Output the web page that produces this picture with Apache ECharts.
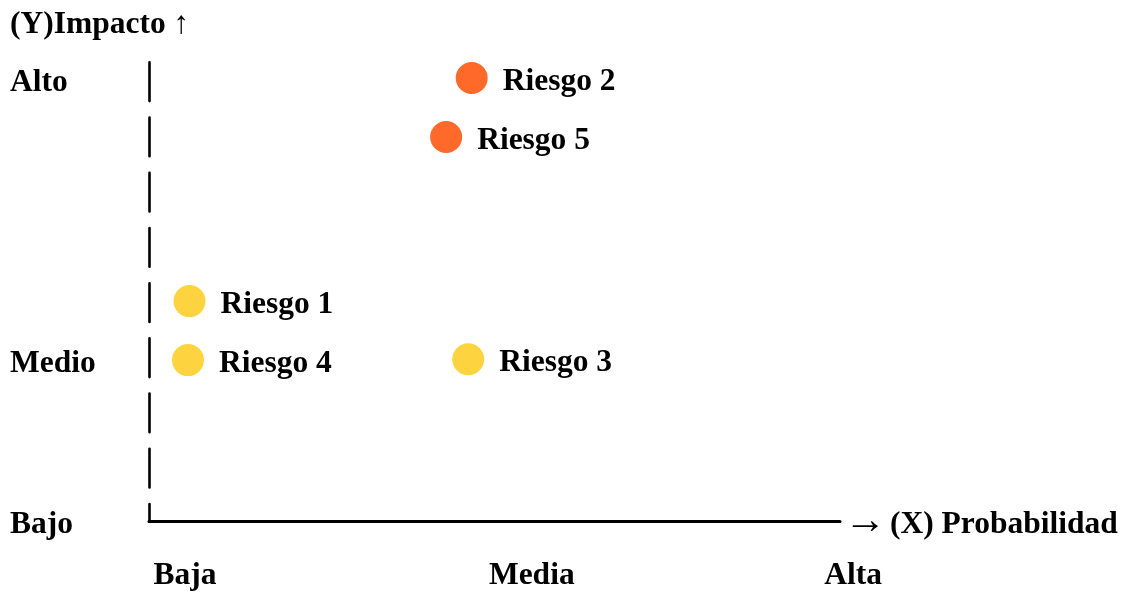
<!DOCTYPE html>
<html>
<head>
<meta charset="utf-8">
<script src="https://cdn.jsdelivr.net/npm/echarts@6/dist/echarts.min.js"></script>
<style>
html,body{margin:0;padding:0;background:#fff;}
#chart{width:1124px;height:592px;}
</style>
</head>
<body>
<div id="chart"></div>
<script>
// ---- data ----
const riskNames   = ['Riesgo 1', 'Riesgo 2', 'Riesgo 3', 'Riesgo 4', 'Riesgo 5'];
const riskProb    = [5.86, 46.7, 46.2, 5.64, 43.0];   // probability (x)
const riskImpact  = [4.77, 9.61, 3.51, 3.49, 8.33];   // impact (y)
const riskLevel   = ['medio', 'alto', 'medio', 'medio', 'alto'];
const levelColors = { alto: '#FF6A2A', medio: '#FDD43F' };

const yTickValues = [0, 3.49, 9.59];
const yTickLabels = ['Bajo', 'Medio', 'Alto'];
const xTickValues = [5.2, 55.4, 101.9];
const xTickLabels = ['Baja', 'Media', 'Alta'];

const yTitle = '(Y)Impacto \u2191';
const xArrow = '\u2192';
const xTitle = '(X) Probabilidad';

// ---- chart ----
const FONT = '"Liberation Serif", "Times New Roman", serif';
const FS = 31.5;
const chart = echarts.init(document.getElementById('chart'), null, { renderer: 'canvas' });

const points = riskNames.map((n, i) => ({
  name: n,
  value: [riskProb[i], riskImpact[i]],
  itemStyle: { color: levelColors[riskLevel[i]], opacity: 1 }
}));

const txt = { fontFamily: FONT, fontWeight: 'bold', fontSize: FS, color: '#000' };

chart.setOption({
  animation: false,
  backgroundColor: '#ffffff',
  title: {
    text: yTitle, left: 10, top: 9, padding: 0,
    textStyle: txt
  },
  grid: [
    { left: 149, top: 60, width: 691, height: 461 },
    { left: 149, top: 60, width: 760, height: 461 }
  ],
  xAxis: [
    {
      gridIndex: 0, type: 'value', min: 0, max: 100,
      splitLine: { show: false },
      axisLine: { show: true, onZero: false, lineStyle: { color: '#000', width: 3 } },
      axisTick: { show: false },
      axisLabel: { show: false },
      name: '{a|' + xArrow + '}{b|' + xTitle + '}', nameLocation: 'end', nameGap: 4,
      nameTextStyle: {
        verticalAlign: 'middle',
        rich: {
          a: { fontFamily: FONT, fontWeight: 'normal', fontSize: 42, color: '#000', padding: [2, 0, 0, 0] },
          b: Object.assign({}, txt, { padding: [7, 0, 0, 4] })
        }
      }
    },
    {
      gridIndex: 1, type: 'value', min: 0, max: 110,
      splitLine: { show: false },
      axisLine: { show: false },
      axisTick: { show: false },
      axisLabel: Object.assign({
        show: true, margin: 43,
        customValues: xTickValues,
        formatter: v => xTickLabels[xTickValues.indexOf(v)] || ''
      }, txt)
    }
  ],
  yAxis: [
    {
      gridIndex: 0, type: 'value', min: 0, max: 10,
      splitLine: { show: false },
      axisLine: { show: true, onZero: false,
        lineStyle: { color: '#000', width: 2.6, type: [38.7, 16.5], dashOffset: 21.7 } },
      axisTick: { show: false },
      axisLabel: {
        show: true, align: 'left', margin: 139,
        customValues: yTickValues,
        formatter: v => '{l|' + (yTickLabels[yTickValues.indexOf(v)] || '') + '}',
        rich: { l: Object.assign({}, txt, { padding: [8, 0, 0, 0] }) }
      }
    },
    {
      gridIndex: 1, type: 'value', min: 0, max: 10, show: false
    }
  ],
  series: [{
    type: 'scatter',
    xAxisIndex: 0, yAxisIndex: 0,
    symbol: 'circle', symbolSize: 32,
    itemStyle: { opacity: 1 },
    data: points,
    label: Object.assign({
      show: true, position: 'right', distance: 15, offset: [0, 4],
      formatter: '{b}'
    }, txt),
    emphasis: { disabled: true }
  }]
});
</script>
</body>
</html>
